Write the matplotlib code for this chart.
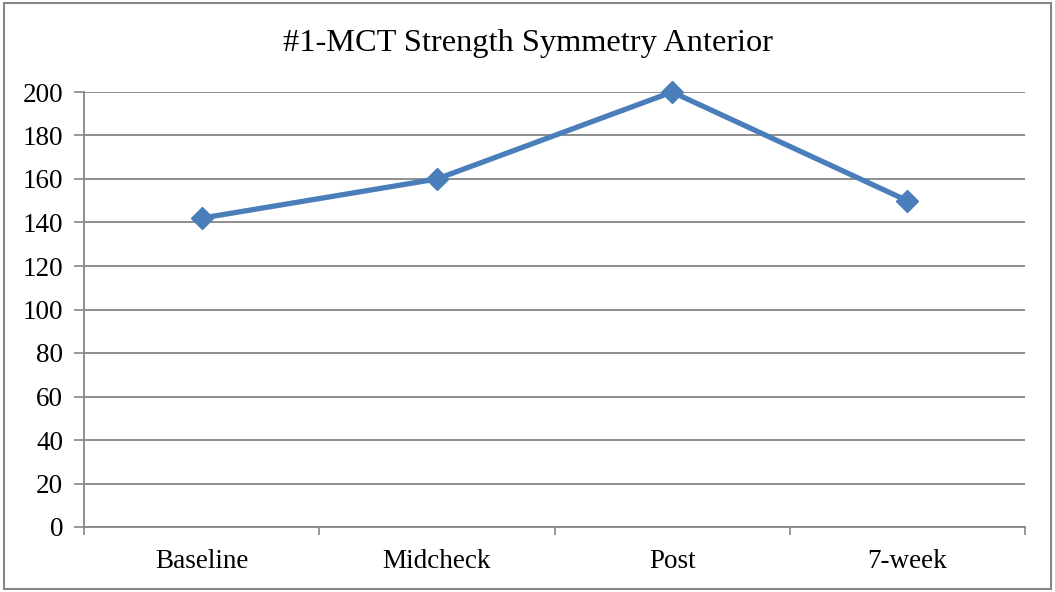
import matplotlib.pyplot as plt
import matplotlib.patches as patches
import numpy as np

plt.rcParams['font.family'] = ['Liberation Serif', 'DejaVu Serif']

# data
stages = ['Baseline', 'Midcheck', 'Post', '7-week']
symmetry = [142, 160, 200, 150]
y_ticks = [0, 20, 40, 60, 80, 100, 120, 140, 160, 180, 200]

grey = '#868686'

fig = plt.figure(figsize=(10.55, 5.92), dpi=100)
ax = fig.add_axes([84/1055, 1 - 527/592, (1025 - 84)/1055, (527 - 92)/592])

x = np.arange(len(stages))
ax.plot(x, symmetry, color='#4A7EBB', lw=3.8, marker='D', ms=11,
        markeredgecolor='#4A7EBB', zorder=3, clip_on=False)

ax.set_xlim(-0.5, len(stages) - 0.5)
ax.set_ylim(0, 200)
ax.set_yticks(y_ticks)
ax.set_xticks(x)
ax.set_xticklabels(stages)
ax.set_xticks(np.arange(-0.5, len(stages)), minor=True)
ax.tick_params(axis='x', which='major', length=0, pad=16, labelsize=19.5)
ax.tick_params(axis='x', which='minor', length=6, width=1.2, color=grey)
ax.tick_params(axis='y', length=7, width=1.2, color=grey, labelsize=19.5, pad=8)

ax.grid(axis='y', color=grey, lw=1.3)
ax.set_axisbelow(True)
for side in ['top', 'right']:
    ax.spines[side].set_visible(False)
for side in ['left', 'bottom']:
    ax.spines[side].set_color(grey)
    ax.spines[side].set_linewidth(1.3)

fig.text(528/1055, 1 - 44/592, '#1-MCT Strength Symmetry Anterior',
         ha='center', va='center', fontsize=23.3)

# outer chart border
fig.patches.append(patches.Rectangle((4/1055, 3/592), 1047/1055, 586/592,
                                     transform=fig.transFigure, fill=False,
                                     edgecolor=grey, lw=1.5))

fig.savefig('out.png', dpi=100)
